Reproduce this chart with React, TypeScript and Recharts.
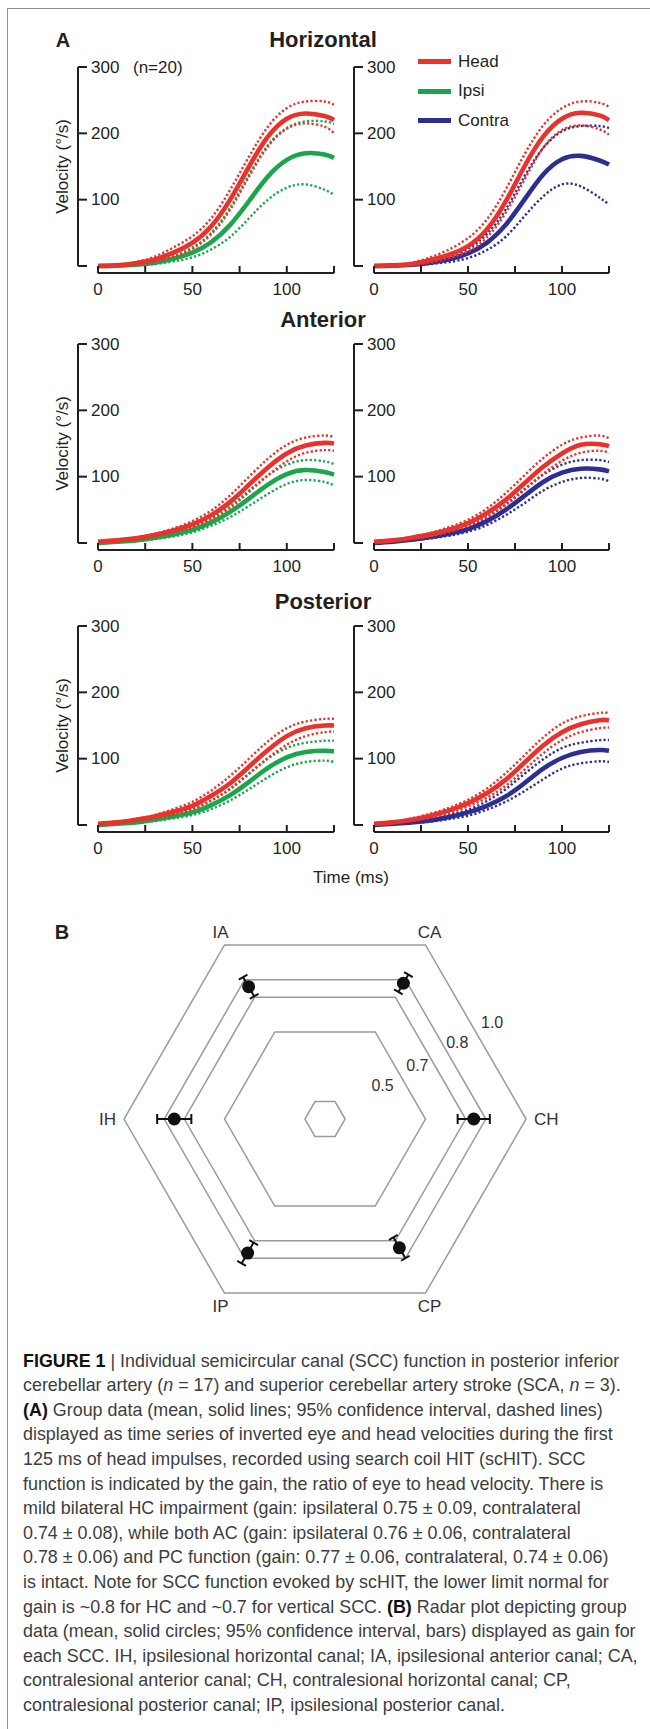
import React from 'react';
import {
  LineChart, Line, XAxis, YAxis, Legend,
  RadarChart, Radar, PolarGrid, PolarAngleAxis, PolarRadiusAxis,
} from 'recharts';

// ---- panel A data (velocity, deg/s) ----
const timeMs = [0, 10, 20, 30, 40, 50, 60, 70, 80, 90, 100, 110, 120, 125];
const xTicks = [0, 25, 50, 75, 100, 125];
const xLabeled = [0, 50, 100];
const yTicks = [0, 100, 200, 300];
const yLabeled = [100, 200, 300];

// Horizontal, ipsilesional side
const hzL_head = [0, 1, 4, 10, 20, 35, 60, 100, 150, 195, 222, 230, 226, 220];
const hzL_headHi = [0, 2, 6, 14, 28, 45, 72, 115, 165, 210, 238, 248, 248, 243];
const hzL_headLo = [0, 0.5, 2, 6, 14, 26, 48, 85, 135, 180, 207, 215, 210, 200];
const hzL_eye = [0, 0.5, 2, 5, 11, 20, 36, 62, 98, 135, 160, 170, 168, 163];
const hzL_eyeHi = [0, 1, 3, 7, 15, 28, 50, 88, 138, 182, 208, 218, 218, 214];
const hzL_eyeLo = [0, 0, 1, 3, 7, 13, 25, 44, 72, 100, 118, 123, 115, 107];
// Horizontal, contralesional side
const hzR_head = [0, 1, 3, 9, 17, 30, 55, 97, 150, 195, 222, 231, 227, 220];
const hzR_headHi = [0, 2, 5, 13, 25, 42, 70, 115, 168, 212, 238, 248, 246, 240];
const hzR_headLo = [0, 0.5, 2, 5, 12, 22, 43, 80, 130, 178, 205, 212, 206, 198];
const hzR_eye = [0, 0.5, 2, 5, 10, 19, 35, 62, 100, 138, 161, 166, 159, 153];
const hzR_eyeHi = [0, 1, 3, 7, 14, 26, 48, 85, 135, 178, 203, 211, 211, 208];
const hzR_eyeLo = [0, 0, 1, 3, 6, 12, 24, 44, 75, 105, 123, 120, 103, 93];
// Anterior
const anL_head = [2, 4, 7, 12, 19, 28, 42, 62, 88, 114, 135, 147, 151, 150];
const anL_headHi = [2, 5, 8, 14, 22, 33, 49, 72, 100, 127, 148, 159, 162, 160];
const anL_headLo = [1, 3, 5, 10, 16, 24, 36, 53, 77, 102, 123, 136, 140, 139];
const anL_eye = [0, 2, 4, 8, 13, 20, 31, 47, 67, 88, 104, 110, 107, 103];
const anL_eyeHi = [0, 2, 5, 10, 16, 24, 37, 56, 79, 102, 118, 125, 123, 119];
const anL_eyeLo = [0, 1, 3, 6, 10, 16, 26, 39, 56, 74, 89, 95, 92, 87];
const anR_head = [2, 4, 8, 13, 20, 30, 45, 65, 90, 115, 135, 148, 149, 146];
const anR_headHi = [2, 5, 9, 15, 24, 35, 52, 75, 102, 128, 148, 159, 162, 158];
const anR_headLo = [1, 3, 6, 10, 17, 26, 39, 57, 80, 104, 124, 136, 139, 136];
const anR_eye = [0, 2, 5, 9, 14, 21, 33, 50, 71, 92, 106, 112, 111, 108];
const anR_eyeHi = [0, 3, 6, 11, 17, 25, 39, 58, 81, 103, 118, 125, 125, 122];
const anR_eyeLo = [0, 2, 4, 7, 11, 17, 27, 42, 60, 79, 92, 98, 97, 93];
// Posterior
const poL_head = [2, 4, 8, 13, 20, 29, 44, 63, 88, 113, 134, 146, 150, 150];
const poL_headHi = [2, 5, 9, 15, 24, 35, 52, 74, 100, 126, 146, 156, 160, 160];
const poL_headLo = [1, 3, 6, 10, 16, 24, 37, 54, 77, 101, 121, 134, 140, 141];
const poL_eye = [0, 2, 4, 8, 13, 19, 30, 45, 65, 86, 102, 110, 112, 111];
const poL_eyeHi = [0, 2, 5, 10, 16, 24, 37, 55, 78, 100, 116, 124, 127, 127];
const poL_eyeLo = [0, 1, 3, 6, 10, 15, 24, 37, 54, 72, 87, 95, 97, 95];
const poR_head = [2, 4, 8, 14, 22, 33, 48, 68, 94, 120, 140, 152, 158, 158];
const poR_headHi = [2, 5, 10, 17, 26, 38, 55, 78, 105, 132, 153, 164, 169, 169];
const poR_headLo = [1, 3, 6, 11, 18, 28, 41, 59, 83, 108, 128, 140, 146, 147];
const poR_eye = [0, 2, 4, 7, 12, 19, 29, 43, 63, 85, 101, 110, 113, 112];
const poR_eyeHi = [0, 2, 5, 9, 15, 23, 36, 54, 77, 99, 116, 124, 128, 128];
const poR_eyeLo = [0, 1, 3, 5, 9, 14, 23, 35, 51, 69, 85, 93, 96, 95];

// ---- panel B data (gain) ----
const canals = ['IH', 'IA', 'CA', 'CH', 'CP', 'IP'];
const gain = [0.75, 0.76, 0.78, 0.74, 0.74, 0.77];
const gainCI = [0.085, 0.055, 0.05, 0.08, 0.06, 0.06];
const gridLevels = [0.1, 0.5, 0.7, 0.8, 1.0];
const labeledLevels = [0.5, 0.7, 0.8, 1.0];

const legendItems = [
  { label: 'Head', key: 'head' },
  { label: 'Ipsi', key: 'ipsi' },
  { label: 'Contra', key: 'contra' },
];

const RED = '#e8322b';
const GREEN = '#1aa64c';
const BLUE = '#2c2f8f';
const INK = '#231f20';
const GRID = '#9a9a9a';
const FONT = '"Liberation Sans", Arial, Helvetica, sans-serif';
const colorOf: Record<string, string> = { head: RED, ipsi: GREEN, contra: BLUE };

const buildRows = (head: number[], headHi: number[], headLo: number[], eye: number[], eyeHi: number[], eyeLo: number[]) =>
  timeMs.map((t, i) => ({ t, head: head[i], headHi: headHi[i], headLo: headLo[i], eye: eye[i], eyeHi: eyeHi[i], eyeLo: eyeLo[i] }));

const rows = [
  { title: 'Horizontal', plotTop: 67, titleY: 40,
    ipsi: buildRows(hzL_head, hzL_headHi, hzL_headLo, hzL_eye, hzL_eyeHi, hzL_eyeLo),
    contra: buildRows(hzR_head, hzR_headHi, hzR_headLo, hzR_eye, hzR_eyeHi, hzR_eyeLo) },
  { title: 'Anterior', plotTop: 344, titleY: 320,
    ipsi: buildRows(anL_head, anL_headHi, anL_headLo, anL_eye, anL_eyeHi, anL_eyeLo),
    contra: buildRows(anR_head, anR_headHi, anR_headLo, anR_eye, anR_eyeHi, anR_eyeLo) },
  { title: 'Posterior', plotTop: 626, titleY: 602,
    ipsi: buildRows(poL_head, poL_headHi, poL_headLo, poL_eye, poL_eyeHi, poL_eyeLo),
    contra: buildRows(poR_head, poR_headHi, poR_headLo, poR_eye, poR_eyeHi, poR_eyeLo) },
];

const radarRows = canals.map((c, i) => ({ canal: c, gain: gain[i], lo: gain[i] - gainCI[i], hi: gain[i] + gainCI[i] }));

// ---- panel A pieces ----
const PLOT_H = 199;
const Y_GAP = 20; // offset between y-axis line and time zero
const X_GAP = 7;  // offset between zero velocity and x-axis line
const Y_AXIS_W = 44;
const M = { top: 10, right: 10, bottom: 4, left: 6 };

const XTick = (p: any) => {
  const v = p.payload.value;
  return (
    <g>
      <line x1={p.x} x2={p.x} y1={p.y} y2={p.y - 7} stroke={INK} strokeWidth={2} />
      {xLabeled.includes(v) && (
        <text x={p.x} y={p.y + 16} textAnchor="middle" dominantBaseline="central" fontSize={17} fill={INK} fontFamily={FONT}>{v}</text>
      )}
    </g>
  );
};

const YTick = (p: any) => {
  const v = p.payload.value;
  return (
    <g>
      <line x1={p.x} x2={p.x + 9} y1={p.y} y2={p.y} stroke={INK} strokeWidth={2} />
      {yLabeled.includes(v) && (
        <text x={p.x + 13} y={p.y} textAnchor="start" dominantBaseline="central" fontSize={17} fill={INK} fontFamily={FONT}>{v}</text>
      )}
    </g>
  );
};

const YLabel = (p: any) => {
  const vb = p.viewBox || {};
  const x = vb.x + 28;
  const y = vb.y + vb.height / 2;
  return (
    <text x={x} y={y} transform={`rotate(-90, ${x}, ${y})`} textAnchor="middle" dominantBaseline="central" fontSize={17} fill={INK} fontFamily={FONT}>
      Velocity (°/s)
    </text>
  );
};

const LegendBox = () => (
  <div style={{ fontFamily: FONT, fontSize: 17, color: INK }}>
    {legendItems.map((it) => (
      <div key={it.key} style={{ display: 'flex', alignItems: 'center', height: 29.5 }}>
        <span style={{ display: 'inline-block', width: 33, height: 5, background: colorOf[it.key], marginRight: 7 }} />
        <span>{it.label}</span>
      </div>
    ))}
  </div>
);

type PanelProps = { data: any[]; eyeColor: string; plotLeft: number; plotW: number; plotTop: number; yLabel?: boolean; legend?: boolean };

function VelocityPanel({ data, eyeColor, plotLeft, plotW, plotTop, yLabel, legend }: PanelProps) {
  const width = M.left + Y_AXIS_W + Y_GAP + plotW + M.right;
  const height = M.top + PLOT_H + X_GAP + 30 + M.bottom;
  const dotted = { strokeWidth: 2.4, strokeDasharray: '2.2 2.2', dot: false, isAnimationActive: false, xAxisId: 't', yAxisId: 'v', type: 'natural' as const };
  const solid = { strokeWidth: 4.6, dot: false, isAnimationActive: false, xAxisId: 't', yAxisId: 'v', type: 'natural' as const };
  return (
    <div style={{ position: 'absolute', left: plotLeft - M.left - Y_AXIS_W - Y_GAP, top: plotTop - M.top }}>
      <LineChart width={width} height={height} data={data} margin={M}>
        <XAxis xAxisId="gap" height={X_GAP} axisLine={false} tickLine={false} tick={false} />
        <XAxis xAxisId="t" dataKey="t" type="number" domain={[0, 125]} ticks={xTicks} interval={0} height={30}
          axisLine={{ stroke: INK, strokeWidth: 2 }} tickLine={false} tickSize={0} tickMargin={0} tick={XTick} />
        <YAxis yAxisId="gap" width={Y_GAP} axisLine={false} tickLine={false} tick={false} />
        <YAxis yAxisId="v" type="number" domain={[0, 300]} ticks={yTicks} interval={0} width={Y_AXIS_W}
          axisLine={{ stroke: INK, strokeWidth: 2 }} tickLine={false} tickSize={0} tickMargin={0} tick={YTick}
          label={yLabel ? YLabel : undefined} />
        {legend && (
          <Legend layout="vertical" align="center" verticalAlign="middle" content={LegendBox}
            wrapperStyle={{ top: -10, left: 114, width: 'auto' }} />
        )}
        <Line {...dotted} dataKey="eyeLo" stroke={eyeColor} legendType="none" />
        <Line {...dotted} dataKey="eyeHi" stroke={eyeColor} legendType="none" />
        <Line {...solid} dataKey="eye" stroke={eyeColor} />
        <Line {...dotted} dataKey="headLo" stroke={RED} legendType="none" />
        <Line {...dotted} dataKey="headHi" stroke={RED} legendType="none" />
        <Line {...solid} dataKey="head" stroke={RED} />
      </LineChart>
    </div>
  );
}

// ---- panel B pieces ----
const R_W = 650;
const R_H = 430;
const RCX = 325;
const RCY = 215;
const R_OUT = 201;
const R_TOP = 1119 - RCY;

const GainDot = (p: any) => {
  const row = radarRows[p.index];
  if (!row || p.cx == null) return <g />;
  const dx = p.cx - RCX;
  const dy = p.cy - RCY;
  const d = Math.hypot(dx, dy) || 1;
  const ux = dx / d;
  const uy = dy / d;
  const k = d / row.gain;
  const a = { x: RCX + ux * row.lo * k, y: RCY + uy * row.lo * k };
  const b = { x: RCX + ux * row.hi * k, y: RCY + uy * row.hi * k };
  const cap = 5;
  return (
    <g key={`gd-${p.index}`}>
      <line x1={a.x} y1={a.y} x2={b.x} y2={b.y} stroke="#111" strokeWidth={2} />
      <line x1={a.x - uy * cap} y1={a.y + ux * cap} x2={a.x + uy * cap} y2={a.y - ux * cap} stroke="#111" strokeWidth={2} />
      <line x1={b.x - uy * cap} y1={b.y + ux * cap} x2={b.x + uy * cap} y2={b.y - ux * cap} stroke="#111" strokeWidth={2} />
      <circle cx={p.cx} cy={p.cy} r={6.5} fill="#111" />
    </g>
  );
};

const AngleTick = (p: any) => {
  const level = Math.abs(p.y - RCY) < 1;
  const dy = level ? 0 : p.y < RCY ? -6 : 7;
  return (
    <text x={p.x} y={p.y + dy} textAnchor={level ? p.textAnchor : 'middle'} dominantBaseline="central" fontSize={17} fill="#333" fontFamily={FONT}>
      {p.payload.value}
    </text>
  );
};

const RadiusTick = (p: any) => {
  const v = p.payload.value;
  if (!labeledLevels.includes(v)) return <g />;
  const dx = p.x - RCX;
  const dy = p.y - RCY;
  const d = Math.hypot(dx, dy) || 1;
  const dr = v < 0.75 ? -34 : -8;
  return (
    <text x={p.x + (dx / d) * dr} y={p.y + (dy / d) * dr} textAnchor="middle" dominantBaseline="central" fontSize={16} fill="#333" fontFamily={FONT}>
      {v.toFixed(1)}
    </text>
  );
};

const Txt = ({ x, y, size = 17, bold, children, anchor = 'middle' }: any) => (
  <div style={{
    position: 'absolute', left: x, top: y, fontSize: size, fontWeight: bold ? 700 : 400, whiteSpace: 'nowrap',
    transform: `translate(${anchor === 'middle' ? '-50%' : '0'}, -50%)`, lineHeight: 1,
  }}>{children}</div>
);

const captionLines: React.ReactNode[] = [
  <><b style={{ color: '#111' }}>FIGURE 1</b> | Individual semicircular canal (SCC) function in posterior inferior</>,
  <>cerebellar artery (<i>n</i> = 17) and superior cerebellar artery stroke (SCA, <i>n</i> = 3).</>,
  <><b style={{ color: '#111' }}>(A)</b> Group data (mean, solid lines; 95% confidence interval, dashed lines)</>,
  <>displayed as time series of inverted eye and head velocities during the first</>,
  <>125 ms of head impulses, recorded using search coil HIT (scHIT). SCC</>,
  <>function is indicated by the gain, the ratio of eye to head velocity. There is</>,
  <>mild bilateral HC impairment (gain: ipsilateral 0.75 ± 0.09, contralateral</>,
  <>0.74 ± 0.08), while both AC (gain: ipsilateral 0.76 ± 0.06, contralateral</>,
  <>0.78 ± 0.06) and PC function (gain: 0.77 ± 0.06, contralateral, 0.74 ± 0.06)</>,
  <>is intact. Note for SCC function evoked by scHIT, the lower limit normal for</>,
  <>gain is ~0.8 for HC and ~0.7 for vertical SCC. <b style={{ color: '#111' }}>(B)</b> Radar plot depicting group</>,
  <>data (mean, solid circles; 95% confidence interval, bars) displayed as gain for</>,
  <>each SCC. IH, ipsilesional horizontal canal; IA, ipsilesional anterior canal; CA,</>,
  <>contralesional anterior canal; CH, contralesional horizontal canal; CP,</>,
  <>contralesional posterior canal; IP, ipsilesional posterior canal.</>,
];

export default function App() {
  return (
    <div style={{ position: 'absolute', left: 0, top: 0, width: 650, height: 1729, background: '#fff', fontFamily: FONT, color: INK, overflow: 'hidden' }}>
      <div style={{ position: 'absolute', left: 7, top: 8, right: -4, bottom: -4, borderTop: '1.5px solid #8f8f8f', borderLeft: '1.5px solid #8f8f8f' }} />

      <Txt x={63} y={40} size={20} bold>A</Txt>
      <Txt x={133} y={67} anchor="start">(n=20)</Txt>
      {rows.map((r, i) => (
        <React.Fragment key={r.title}>
          <Txt x={323} y={r.titleY} size={22} bold>{r.title}</Txt>
          <VelocityPanel data={r.ipsi} eyeColor={GREEN} plotLeft={98} plotW={236} plotTop={r.plotTop} yLabel />
          <VelocityPanel data={r.contra} eyeColor={BLUE} plotLeft={374} plotW={235} plotTop={r.plotTop} legend={i === 0} />
        </React.Fragment>
      ))}
      <Txt x={351} y={877}>Time (ms)</Txt>

      <Txt x={62} y={932} size={20} bold>B</Txt>
      <div style={{ position: 'absolute', left: 0, top: R_TOP }}>
        <RadarChart width={R_W} height={R_H} data={radarRows} cx={RCX} cy={RCY} outerRadius={R_OUT} startAngle={180} endAngle={-180}>
          <PolarGrid gridType="polygon" radialLines={false} stroke={GRID} strokeWidth={1.5} />
          <PolarAngleAxis dataKey="canal" tick={AngleTick} tickLine={false} axisLine={false} />
          <PolarRadiusAxis angle={30} type="number" domain={[0, 1]} ticks={gridLevels} tick={RadiusTick} axisLine={false} tickLine={false} />
          <Radar dataKey="gain" stroke="transparent" fill="transparent" fillOpacity={0} dot={GainDot} isAnimationActive={false} />
        </RadarChart>
      </div>

      <div style={{ position: 'absolute', left: 23, top: 1348.7, fontSize: 17.9, lineHeight: '24.6px', color: '#3d3d3d', whiteSpace: 'nowrap' }}>
        {captionLines.map((ln, i) => <div key={i}>{ln}</div>)}
      </div>
    </div>
  );
}
